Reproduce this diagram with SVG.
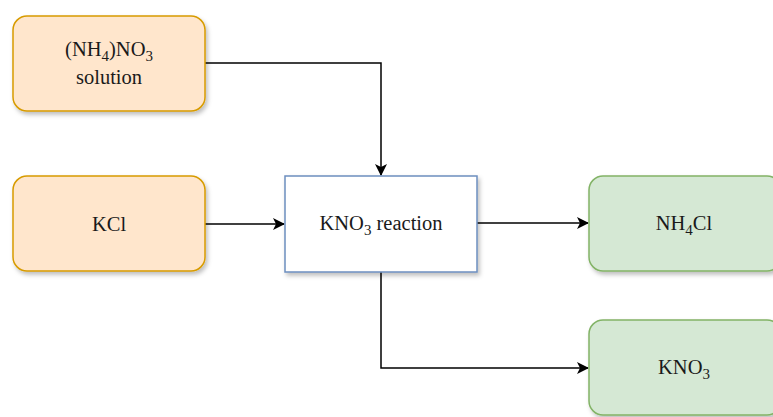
<svg xmlns="http://www.w3.org/2000/svg" width="773" height="417" viewBox="0 0 773 417">
<defs>
<filter id="sh" x="-10%" y="-10%" width="130%" height="140%">
<feDropShadow dx="2" dy="3" stdDeviation="2" flood-color="#000" flood-opacity="0.25"/>
</filter>
<marker id="ah" markerWidth="12" markerHeight="12" viewBox="0 0 12 12" refX="11" refY="6" orient="auto" markerUnits="userSpaceOnUse">
<path d="M0,0 L12,6 L0,12 L3,6 Z" fill="#000"/>
</marker>
</defs>
<style>
.o{fill:#ffe6cc;stroke:#d79b00;stroke-width:1.5}
.b{fill:#ffffff;stroke:#6c8ebf;stroke-width:1.5}
.g{fill:#d5e8d4;stroke:#82b366;stroke-width:1.5}
text{font-family:"Liberation Serif","DejaVu Serif",serif;font-size:20.5px;fill:#1a1a1a;text-anchor:middle}
.s{font-size:15px}
.c{fill:none;stroke:#000;stroke-width:1.5;marker-end:url(#ah)}
</style>
<rect width="773" height="417" fill="#fff"/>
<g id="connectors">
<path class="c" d="M205,63 H381 V175"/>
<path class="c" d="M205,224 H284"/>
<path class="c" d="M477,223 H588"/>
<path class="c" d="M381,272 V368 H588"/>
</g>
<g id="nh4no3">
<rect class="o" x="13" y="16" width="192" height="95" rx="14" filter="url(#sh)"/>
<text x="109" y="56">(NH<tspan class="s" dy="5">4</tspan><tspan dy="-5">)NO</tspan><tspan class="s" dy="5">3</tspan></text>
<text x="109" y="84">solution</text>
</g>
<g id="kcl">
<rect class="o" x="13" y="176" width="192" height="95" rx="14" filter="url(#sh)"/>
<text x="109" y="231">KCl</text>
</g>
<g id="reaction">
<rect class="b" x="285" y="176" width="192" height="96" filter="url(#sh)"/>
<text x="381" y="230">KNO<tspan class="s" dy="5">3</tspan><tspan dy="-5"> reaction</tspan></text>
</g>
<g id="nh4cl">
<rect class="g" x="589" y="176" width="192" height="95" rx="14" filter="url(#sh)"/>
<text x="684" y="230">NH<tspan class="s" dy="5">4</tspan><tspan dy="-5">Cl</tspan></text>
</g>
<g id="kno3">
<rect class="g" x="589" y="320" width="192" height="95" rx="14" filter="url(#sh)"/>
<text x="684" y="374">KNO<tspan class="s" dy="5">3</tspan></text>
</g>
</svg>
